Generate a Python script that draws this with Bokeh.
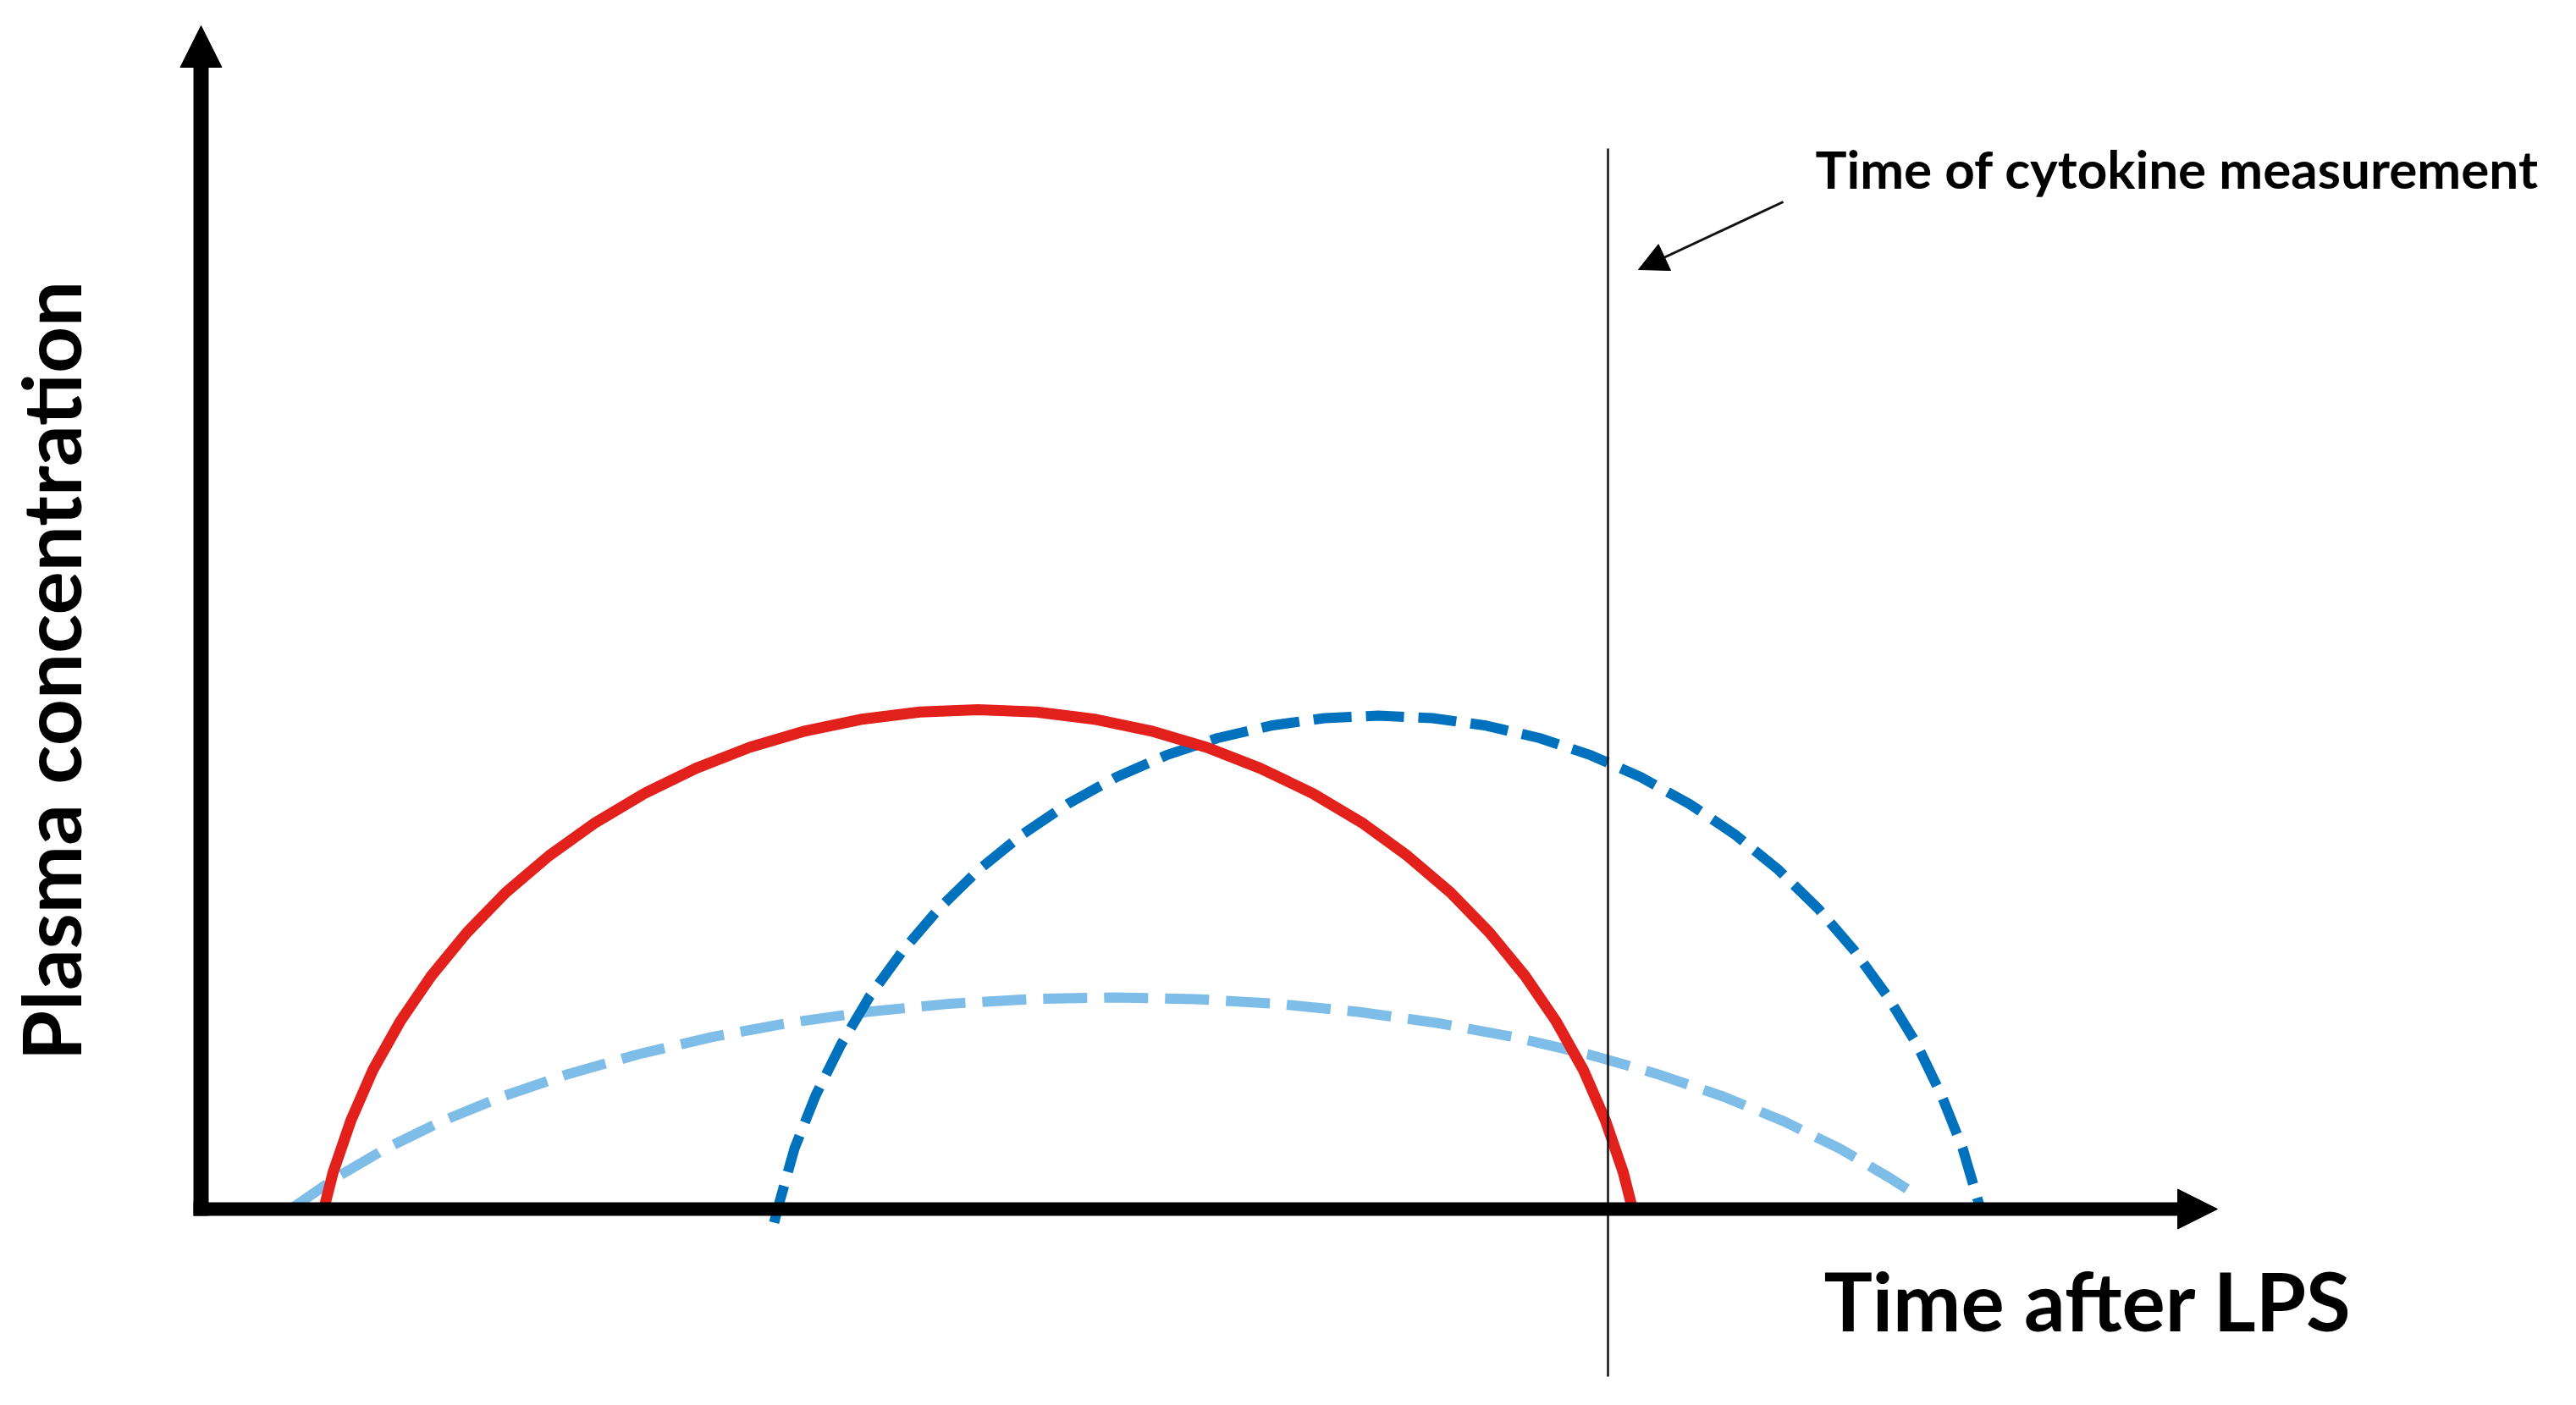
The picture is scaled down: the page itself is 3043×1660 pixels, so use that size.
import math
from bokeh.plotting import figure
from bokeh.models import Range1d, Arrow, NormalHead
from bokeh.embed import file_html
from bokeh.resources import INLINE
from bokeh.core.properties import value

early_time = [1.45, 1.56, 1.77, 2.03, 2.35, 2.72, 3.14, 3.60, 4.11, 4.66, 5.24, 5.85, 6.48, 7.14, 7.81,
              8.49, 9.18, 9.87, 10.55, 11.22, 11.88, 12.51, 13.13, 13.71, 14.25, 14.76, 15.22, 15.64,
              16.01, 16.33, 16.59, 16.80, 16.91]
early_conc = [0.0, 4.34, 10.47, 16.42, 22.13, 27.55, 32.66, 37.40, 41.74, 45.67, 49.12, 52.09, 54.55,
              56.49, 57.88, 58.72, 59.0, 58.72, 57.88, 56.49, 54.55, 52.09, 49.12, 45.67, 41.74, 37.40,
              32.66, 27.55, 22.13, 16.42, 10.47, 4.34, 0.0]

late_time = [6.77, 6.81, 7.01, 7.26, 7.56, 7.90, 8.29, 8.72, 9.19, 9.70, 10.24, 10.81, 11.40, 12.01,
             12.64, 13.27, 13.91, 14.55, 15.18, 15.81, 16.42, 17.01, 17.58, 18.12, 18.63, 19.10, 19.53,
             19.92, 20.27, 20.56, 20.81, 21.02]
late_conc = [-1.6, 0.0, 7.15, 13.42, 19.44, 25.16, 30.53, 35.53, 40.11, 44.25, 47.88, 51.02, 53.61,
             55.65, 57.12, 58.00, 58.30, 58.00, 57.12, 55.65, 53.61, 51.02, 47.88, 44.25, 40.11, 35.53,
             30.53, 25.16, 19.44, 13.42, 7.15, 0.0]

broad_time = [1.06, 1.59, 2.18, 2.84, 3.56, 4.34, 5.17, 6.03, 6.94, 7.87, 8.82, 9.79, 10.77, 11.75,
              12.72, 13.67, 14.60, 15.51, 16.38, 17.20, 17.98, 18.70, 19.36, 19.95, 20.24]
broad_conc = [0.0, 3.68, 7.14, 10.36, 13.30, 15.96, 18.30, 20.32, 21.99, 23.30, 24.24, 24.81, 25.0,
              24.81, 24.24, 23.30, 21.99, 20.32, 18.30, 15.96, 13.30, 10.36, 7.14, 3.68, 1.8]

measurement_time = 16.62
measurement_span = [-19.8, 125.3]

x_label = "Time after LPS"
y_label = "Plasma concentration"
note_text = "Time of cytokine measurement"

# ---------------- figure ----------------
W, H = 3027, 1644
X0 = -2.37           # time at left edge of frame
Y1 = 142.8           # concentration at top edge of frame
p = figure(width=W, height=H, output_backend="svg", toolbar_location=None,
           x_range=Range1d(X0, X0 + W / 100.0), y_range=Range1d(Y1 - H / 10.0, Y1),
           x_axis_location=None, y_axis_location=None, min_border=0,
           outline_line_color=None, background_fill_color="white", border_fill_color="white")
p.grid.visible = False

# curves
p.line(broad_time, broad_conc, line_color="#7DBDE8", line_width=12, line_dash="52 20")
p.line(late_time, late_conc, line_color="#0071BD", line_width=12, line_dash="45 17")
p.line(early_time, early_conc, line_color="#E3211C", line_width=13)

# time of measurement
p.segment(x0=[measurement_time], y0=[measurement_span[0]], x1=[measurement_time], y1=[measurement_span[1]],
          line_color="#111111", line_width=2.5)

# axes with arrow heads
p.add_layout(Arrow(end=NormalHead(size=47, fill_color="black", line_color="black", line_width=1),
                   x_start=-0.09, y_start=0.0, x_end=23.82, y_end=0.0,
                   line_width=16, line_color="black"))
p.add_layout(Arrow(end=NormalHead(size=49, fill_color="black", line_color="black", line_width=1),
                   x_start=0.0, y_start=-0.8, x_end=0.0, y_end=139.8,
                   line_width=18, line_color="black"))

# annotation arrow
p.add_layout(Arrow(end=NormalHead(size=34, fill_color="black", line_color="black", line_width=1),
                   x_start=18.69, y_start=119.0, x_end=16.98, y_end=111.0,
                   line_width=3, line_color="#111111"))

# texts
p.text(x=[19.17], y=[-10.7], text=[x_label], text_font=value("Lato"), text_font_style="bold",
       text_font_size="96px", text_color="black", text_align="left", text_baseline="alphabetic")
p.text(x=[19.07], y=[123.0], text=[note_text], text_font=value("Lato"), text_font_style="bold",
       text_font_size="62px", text_color="black", text_align="left", text_baseline="alphabetic")
p.text(x=[-1.79], y=[63.6], text=[y_label], angle=math.pi / 2, text_font=value("Lato"),
       text_font_style="bold", text_font_size="96px", text_color="black",
       text_align="center", text_baseline="alphabetic")

open("out.html", "w").write(file_html(p, INLINE))
